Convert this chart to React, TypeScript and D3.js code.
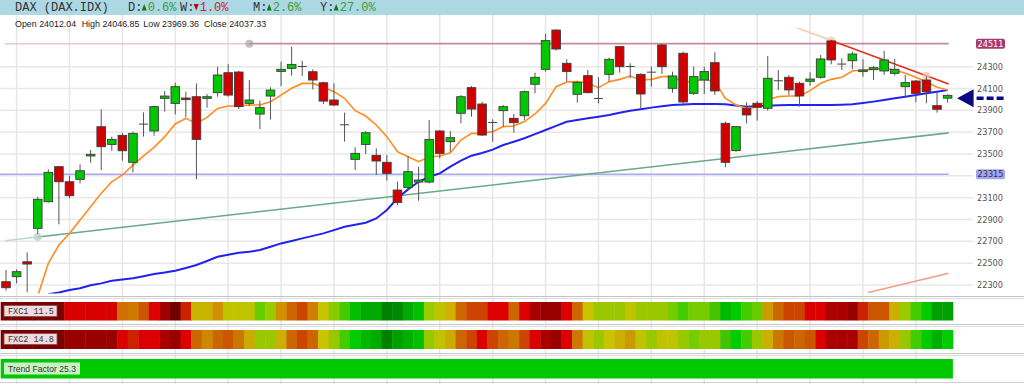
import React from "react";
import * as d3 from "d3";

// ---------- DATA ----------
const OPEN = [
  22330, 22376, 22513, 22819, 23063, 23384, 23246, 23268, 23482, 23750,
  23588, 23671, 23424, 23770, 23711, 24010, 23964, 24013, 24025, 24010,
  24062, 24245, 24251, 23964, 23866, 24031, 24257, 24285, 24298, 24254,
  24153, 23995, 23764, 23451, 23588, 23488, 23424, 23170, 23194, 23243,
  23243, 23711, 23613, 23873, 24108, 23958, 23785, 23897, 23827, 23851,
  24139, 24276, 24636, 24331, 24047, 24218, 24005, 24230, 24484, 24298,
  24230, 24246, 24499, 24102, 24423, 24056, 24178, 24337, 23781, 23531,
  23919, 23965, 23919, 24167, 24203, 24148, 24166, 24203, 24536, 24320,
  24355, 24255, 24273, 24261, 24239, 24117, 24169, 24178, 23943, 24012.04,
];
const HIGH = [
  22437, 22443, 22599, 23109, 23359, 23390, 23301, 23405, 23537, 23909,
  23659, 23695, 23705, 23882, 23940, 24077, 24153, 24071, 24147, 24050,
  24300, 24324, 24263, 24178, 23989, 24111, 24346, 24483, 24355, 24276,
  24163, 24147, 23879, 23561, 23711, 23552, 23491, 23246, 23482, 23384,
  23811, 23720, 23711, 24040, 24123, 23979, 23818, 23949, 23867, 24081,
  24245, 24600, 24642, 24368, 24169, 24270, 24203, 24383, 24490, 24331,
  24239, 24300, 24508, 24255, 24438, 24300, 24300, 24432, 23797, 23757,
  23974, 23986, 24398, 24270, 24224, 24163, 24248, 24407, 24545, 24377,
  24438, 24368, 24306, 24444, 24371, 24224, 24178, 24209, 24065, 24046.85,
];
const LOW = [
  22248, 22315, 22233, 22767, 23054, 22856, 23094, 23231, 23421, 23353,
  23530, 23439, 23332, 23659, 23668, 23888, 23863, 23836, 23268, 23924,
  24025, 24025, 23912, 23940, 23729, 23817, 24123, 24218, 24215, 24092,
  23958, 23940, 23613, 23353, 23500, 23308, 23256, 23033, 23170, 23072,
  23231, 23460, 23521, 23781, 23842, 23665, 23613, 23751, 23696, 23812,
  24056, 24255, 24447, 24163, 23971, 24056, 23965, 24163, 24245, 24194,
  23919, 24117, 24233, 24062, 23940, 24041, 24050, 24041, 23378, 23522,
  23781, 23806, 23897, 24087, 24041, 23934, 24126, 24190, 24322, 24270,
  24276, 24209, 24178, 24224, 24218, 24026, 23974, 23965, 23879, 23969.36,
];
const CLOSE = [
  22275, 22422, 22492, 23085, 23332, 23246, 23118, 23347, 23497, 23567,
  23634, 23530, 23689, 23774, 23934, 24031, 24117, 23998, 23634, 24025,
  24224, 24040, 23934, 23995, 23927, 24086, 24276, 24321, 24302, 24178,
  23985, 23949, 23768, 23506, 23695, 23436, 23323, 23057, 23338, 23262,
  23634, 23506, 23650, 24025, 23912, 23674, 23789, 23934, 23787, 24071,
  24203, 24539, 24462, 24255, 24157, 24062, 24009, 24368, 24300, 24302,
  24050, 24250, 24300, 24215, 23977, 24209, 24255, 24078, 23424, 23751,
  23858, 23928, 24194, 24171, 24087, 24032, 24187, 24371, 24362, 24324,
  24416, 24270, 24291, 24362, 24276, 24154, 24056, 24071, 23910, 24037.33,
];

// fast moving average (orange), starting at candle 3
const MA_FAST_START = 3;
const MA_FAST = [
  22200, 22498, 22666, 22773, 22895, 23017, 23140, 23246, 23308, 23399,
  23482, 23561, 23659, 23775, 23827, 23781, 23836, 23918, 23940, 23940,
  23949, 23949, 23979, 24040, 24102, 24147, 24147, 24111, 24071, 24010,
  23897, 23848, 23766, 23659, 23521, 23475, 23430, 23475, 23482, 23512,
  23628, 23689, 23690, 23705, 23751, 23757, 23797, 23867, 23964, 24117,
  24160, 24163, 24148, 24108, 24163, 24184, 24215, 24178, 24184, 24209,
  24209, 24157, 24169, 24184, 24163, 24010, 23949, 23919, 23928, 23995,
  24026, 24032, 24032, 24081, 24148, 24184, 24203, 24261, 24270, 24276,
  24285, 24270, 24239, 24203, 24163, 24111, 24087,
];
// slow moving average (blue), starting at candle 4
const MA_SLOW_START = 4;
const MA_SLOW = [
  22215, 22232, 22254, 22270, 22298, 22315, 22339, 22350, 22361, 22380,
  22400, 22414, 22431, 22455, 22483, 22520, 22559, 22578, 22596, 22605,
  22620, 22650, 22681, 22704, 22727, 22750, 22773, 22803, 22834, 22852,
  22871, 22910, 22987, 23094, 23176, 23246, 23292, 23323, 23384, 23439,
  23485, 23510, 23540, 23583, 23612, 23644, 23682, 23720, 23758, 23796,
  23812, 23827, 23842, 23858, 23878, 23897, 23911, 23925, 23937, 23949,
  23953, 23958, 23958, 23958, 23957, 23945, 23934, 23938, 23943, 23946,
  23949, 23949, 23949, 23949, 23949, 23952, 23955, 23967, 23980, 23995,
  24010, 24025, 24041, 24056, 24071, 24087,
];

const FXC1_COLORS = [
  "#7a0000", "#7a0000", "#7a0000", "#7a0000", "#7a0000", "#7a0000", "#d80000", "#d80000", "#d80000", "#d80000",
  "#d80000", "#d07000", "#cc7a00", "#cc5500", "#dd0000", "#a00000", "#700000", "#cc2200", "#c8b400", "#c8b400",
  "#d09000", "#c0c400", "#c0c400", "#c0c400", "#66cc00", "#99cc00", "#d09000", "#cc6600", "#cc4400", "#d08000",
  "#c8c400", "#88cc00", "#44cc00", "#00c000", "#00aa00", "#00aa00", "#008000", "#008800", "#00aa00", "#00c000",
  "#99cc00", "#c0c400", "#d0b000", "#cc6600", "#cc4400", "#cc4400", "#dd0000", "#dd0000", "#cc6600", "#dd0000",
  "#aa0000", "#990000", "#990000", "#dd0000", "#cc6600", "#c8c400", "#99c800", "#99c800", "#99c800", "#c0c400",
  "#99c800", "#99c800", "#99c800", "#77cc00", "#44cc00", "#77cc00", "#77cc00", "#44c400", "#00b800", "#00cc00",
  "#44cc00", "#66cc00", "#cc9900", "#cc6600", "#cc4400", "#cc4400", "#dd0000", "#dd0000", "#aa0000", "#aa0000",
  "#990000", "#cc2200", "#cc5500", "#cc5500", "#ccb000", "#99cc00", "#44cc00", "#00cc00", "#00a000", "#00a000",
];
const FXC2_COLORS = [
  "#7a0000", "#7a0000", "#7a0000", "#7a0000", "#7a0000", "#7a0000", "#990000", "#990000", "#990000", "#990000",
  "#990000", "#dd0000", "#cc2200", "#dd0000", "#dd0000", "#aa0000", "#990000", "#dd0000", "#cc6600", "#cc8800",
  "#cc6600", "#cc5500", "#cc7700", "#ccaa00", "#99c800", "#99c800", "#ccb000", "#cc6600", "#cc4400", "#cc6600",
  "#c8c400", "#99c800", "#44cc00", "#00cc00", "#00b800", "#00aa00", "#008000", "#00a000", "#00b000", "#00c000",
  "#99c800", "#c0c400", "#ccaa00", "#cc6600", "#cc4400", "#dd0000", "#cc4400", "#cc6600", "#cc7700", "#cc4400",
  "#dd0000", "#aa0000", "#990000", "#dd0000", "#cc7700", "#c0c400", "#99c800", "#c8c400", "#ccb000", "#cc9900",
  "#c0c400", "#99c800", "#c0c400", "#c0c400", "#99c800", "#77cc00", "#99c800", "#99c800", "#44c400", "#00cc00",
  "#44cc00", "#99c800", "#ccb000", "#cc7700", "#cc5500", "#cc6600", "#cc5500", "#dd0000", "#aa0000", "#aa0000",
  "#aa0000", "#cc4400", "#cc6600", "#cc9900", "#ccb000", "#99c800", "#44cc00", "#00cc00", "#00b000", "#00cc00",
];

const Y_TICKS = [22300, 22500, 22700, 22900, 23100, 23300, 23500, 23700, 23900, 24100, 24300];
const RESIST_LEVEL = 24511;
const SUPPORT_LEVEL = 23315;
const ARROW_VALUE = 24010;
// trend lines as [index, value] anchor pairs
const TREND_UP = [[3, 22740], [68, 23460]];
const TREND_DOWN = [[78, 24540], [87, 24217]];
const TREND_LOW = [[82, 22243], [89, 22406]];

const TITLE = "DAX (DAX.IDX)";
const CHANGES = [
  { label: "D:", up: true, value: "0.6%" },
  { label: "W:", up: false, value: "1.0%" },
  { label: "M:", up: true, value: "2.6%" },
  { label: "Y:", up: true, value: "27.0%" },
];
const OHLC_LABELS = ["Open 24012.04", "High 24046.85", "Low 23969.36", "Close 24037.33"];
const FXC1_LABEL = "FXC1 11.5";
const FXC2_LABEL = "FXC2 14.8";
const TREND_LABEL = "Trend Factor 25.3";

// ---------- COMPONENT ----------
export default function App() {
  const n = OPEN.length;
  const x = d3.scaleLinear().domain([0, n - 1]).range([6, 947.6]);
  const y = d3.scaleLinear().domain([22300, 24300]).range([285, 66.7]);
  const step = x(1) - x(0);

  const line = d3
    .line<[number, number]>()
    .x((d) => x(d[0]))
    .y((d) => y(d[1]));

  const fastPts: [number, number][] = MA_FAST.map((v, i) => [i + MA_FAST_START, v]);
  const slowPts: [number, number][] = MA_SLOW.map((v, i) => [i + MA_SLOW_START, v]);

  const trendAt = (tl: number[][], t: number) => {
    const [[i0, v0], [i1, v1]] = tl;
    return v0 + ((t - i0) * (v1 - v0)) / (i1 - i0);
  };
  const seg = (tl: number[][], a: number, b: number) =>
    line([
      [a, trendAt(tl, a)],
      [b, trendAt(tl, b)],
    ]) as string;

  const vGrid = d3.range(1, n, 5);
  const xLeft = x(-0.1);
  const xRight = x(n - 1 + 0.1);

  const changeX = [128, 180, 253, 320];
  const ohlcX = [15, 81.7, 143.3, 204];
  const mono = "'Liberation Mono', 'DejaVu Sans Mono', monospace";
  const sans = "'Liberation Sans', Arial, sans-serif";

  const panels = [
    { y0: 302, y1: 320.5, colors: FXC1_COLORS, label: FXC1_LABEL },
    { y0: 330, y1: 349, colors: FXC2_COLORS, label: FXC2_LABEL },
  ];

  return (
    <svg
      width={1024}
      height={384}
      style={{ position: "absolute", left: 0, top: 0, display: "block", background: "#fff" }}
    >
      <defs>
        <clipPath id="plotClip">
          <rect x={0} y={28} width={952} height={265.5} />
        </clipPath>
      </defs>

      {/* vertical grid */}
      {vGrid.map((i) => (
        <line key={"vg" + i} x1={x(i)} x2={x(i)} y1={15} y2={384} stroke="#e6e6e6" strokeWidth={1.5} />
      ))}
      {/* horizontal grid */}
      {Y_TICKS.map((t) => (
        <line key={"hg" + t} x1={0} x2={973} y1={y(t)} y2={y(t)} stroke="#e8e8e8" strokeWidth={1.5} />
      ))}

      {/* header */}
      <rect x={0} y={0} width={1024} height={15} fill="#acd8e4" />
      <text x={15} y={11} fontFamily={mono} fontSize={12} fill="#333">
        {TITLE}
      </text>
      {CHANGES.map((c, k) => {
        const cx = changeX[k];
        const tri = c.up
          ? `M${cx + 13.7},10.5 L${cx + 16.2},4 L${cx + 18.7},10.5 Z`
          : `M${cx + 13.7},4 L${cx + 16.2},10.5 L${cx + 18.7},4 Z`;
        return (
          <g key={c.label}>
            <text x={cx} y={11} fontFamily={mono} fontSize={12} fill="#333">
              {c.label}
            </text>
            <path d={tri} fill={c.up ? "#0a7a0a" : "#c00000"} />
            <text x={cx + 19.7} y={11} fontFamily={mono} fontSize={12} fill={c.up ? "#3a9a3a" : "#cc2222"}>
              {c.value}
            </text>
          </g>
        );
      })}
      {OHLC_LABELS.map((t, k) => (
        <text key={t} x={ohlcX[k]} y={27} fontFamily={sans} fontSize={8.9} fill="#222">
          {t}
        </text>
      ))}

      {/* plot bottom border */}
      <line x1={0} x2={1024} y1={296.5} y2={296.5} stroke="#c4c4c4" strokeWidth={1} />
      <line x1={0} x2={1024} y1={298.5} y2={298.5} stroke="#dcdcdc" strokeWidth={1} />

      <g clipPath="url(#plotClip)">
        {/* horizontal levels */}
        <line x1={xLeft} x2={x(23)} y1={y(RESIST_LEVEL)} y2={y(RESIST_LEVEL)} stroke="#e8c8d2" strokeWidth={1.5} />
        <line x1={x(23)} x2={xRight} y1={y(RESIST_LEVEL)} y2={y(RESIST_LEVEL)} stroke="#c48a9e" strokeWidth={1.8} />
        <circle cx={x(23)} cy={y(RESIST_LEVEL)} r={4} fill="#9a9a9a" opacity={0.6} />
        <line x1={0} x2={xRight} y1={y(SUPPORT_LEVEL)} y2={y(SUPPORT_LEVEL)} stroke="#aaaaf2" strokeWidth={1.5} />

        {/* up trend line */}
        <path d={seg(TREND_UP, -0.1, 3)} stroke="#bcd8ca" strokeWidth={1.5} fill="none" />
        <path d={seg(TREND_UP, 3, n - 0.9)} stroke="#6aa88c" strokeWidth={1.6} fill="none" />
        <circle cx={x(3)} cy={y(trendAt(TREND_UP, 3))} r={4} fill="#b8d4c6" opacity={0.8} />
        <circle cx={x(68)} cy={y(trendAt(TREND_UP, 68))} r={4} fill="#c8e0d4" opacity={0.6} />

        {/* low trend line */}
        <path d={seg(TREND_LOW, 81.5, n - 0.9)} stroke="#f0a08a" strokeWidth={1.5} fill="none" />

        {/* moving averages */}
        <path d={line(slowPts) as string} stroke="#2222ee" strokeWidth={2} fill="none" />
        <path d={line(fastPts) as string} stroke="#ff8c1e" strokeWidth={1.6} fill="none" />

        {/* down trend line */}
        <path d={seg(TREND_DOWN, 74.5, 78)} stroke="#f8cbb0" strokeWidth={1.6} fill="none" />
        <path d={seg(TREND_DOWN, 78, n - 0.9)} stroke="#e2301e" strokeWidth={1.6} fill="none" />
        <circle cx={x(78)} cy={y(trendAt(TREND_DOWN, 78))} r={4} fill="#f8c0a0" opacity={0.7} />
        <circle cx={x(87)} cy={y(trendAt(TREND_DOWN, 87))} r={4} fill="#f8c0a0" opacity={0.7} />
      </g>

      {/* candles */}
      {OPEN.map((o, i) => {
        const c = CLOSE[i];
        const cx = x(i);
        const top = y(Math.max(o, c));
        const bot = y(Math.min(o, c));
        const doji = Math.abs(o - c) < 8;
        return (
          <g key={"c" + i}>
            <line x1={cx} x2={cx} y1={y(HIGH[i])} y2={y(LOW[i])} stroke="#555" strokeWidth={1} />
            {doji ? (
              <line x1={cx - 4.5} x2={cx + 4.5} y1={y(c)} y2={y(c)} stroke="#444" strokeWidth={1} />
            ) : (
              <rect
                x={cx - 4.3}
                y={top}
                width={8.6}
                height={Math.max(bot - top, 1.5)}
                fill={c > o ? "#00c800" : "#d00000"}
                stroke="#3c3c3c"
                strokeWidth={0.9}
              />
            )}
          </g>
        );
      })}

      {/* y axis labels */}
      {Y_TICKS.filter((t) => Math.abs(t - SUPPORT_LEVEL) > 50).map((t) => (
        <text key={"yl" + t} x={990} y={y(t) + 3} textAnchor="middle" fontFamily="'DejaVu Sans', sans-serif" fontSize={8.2} fill="#555">
          {t}
        </text>
      ))}
      <rect x={976} y={y(RESIST_LEVEL) - 5} width={29} height={10} rx={2} fill="#a8386e" />
      <text x={990.5} y={y(RESIST_LEVEL) + 3} textAnchor="middle" fontFamily="'DejaVu Sans', sans-serif" fontSize={8.2} fill="#fff">
        {RESIST_LEVEL}
      </text>
      <rect x={976} y={y(SUPPORT_LEVEL) - 5} width={29} height={10} rx={2} fill="#a4a4f4" />
      <text x={990.5} y={y(SUPPORT_LEVEL) + 3} textAnchor="middle" fontFamily="'DejaVu Sans', sans-serif" fontSize={8.2} fill="#333">
        {SUPPORT_LEVEL}
      </text>

      {/* price arrow */}
      <path
        d={`M${x(n - 1) + 9.5},${y(ARROW_VALUE)} L${x(n - 1) + 26},${y(ARROW_VALUE) - 9} L${x(n - 1) + 26},${y(ARROW_VALUE) + 9} Z`}
        fill="#0a0a80"
      />
      <line
        x1={x(n - 1) + 29}
        x2={1004}
        y1={y(ARROW_VALUE)}
        y2={y(ARROW_VALUE)}
        stroke="#0a0a80"
        strokeWidth={3.5}
        strokeDasharray="7,3"
      />

      {/* indicator panels */}
      {panels.map((p, k) => (
        <g key={"p" + k}>
          {p.colors.map((col, i) => (
            <rect key={i} x={x(i) - step / 2} y={p.y0} width={step + 0.4} height={p.y1 - p.y0} fill={col} />
          ))}
          <rect x={4} y={p.y0 + 3.5} width={53} height={11} fill="#f0dade" stroke="#8a4a4a" strokeWidth={0.8} />
          <text x={8} y={p.y0 + 12} fontFamily={mono} fontSize={8.5} fill="#333">
            {p.label}
          </text>
        </g>
      ))}
      <line x1={0} x2={1024} y1={324.5} y2={324.5} stroke="#c8c8c8" strokeWidth={1} />
      <line x1={0} x2={1024} y1={326.5} y2={326.5} stroke="#dcdcdc" strokeWidth={1} />
      <line x1={0} x2={1024} y1={353.5} y2={353.5} stroke="#c8c8c8" strokeWidth={1} />
      <line x1={0} x2={1024} y1={355.5} y2={355.5} stroke="#dcdcdc" strokeWidth={1} />
      <rect x={x(0) - step / 2} y={359} width={x(n - 1) - x(0) + step} height={19.5} fill="#00c800" />
      <rect x={4} y={362.5} width={76} height={12} fill="#c8f2c4" />
      <text x={8} y={372} fontFamily={sans} fontSize={8.6} fill="#333">
        {TREND_LABEL}
      </text>
      <line x1={0} x2={1024} y1={382.5} y2={382.5} stroke="#d0d0d0" strokeWidth={1} />
    </svg>
  );
}
